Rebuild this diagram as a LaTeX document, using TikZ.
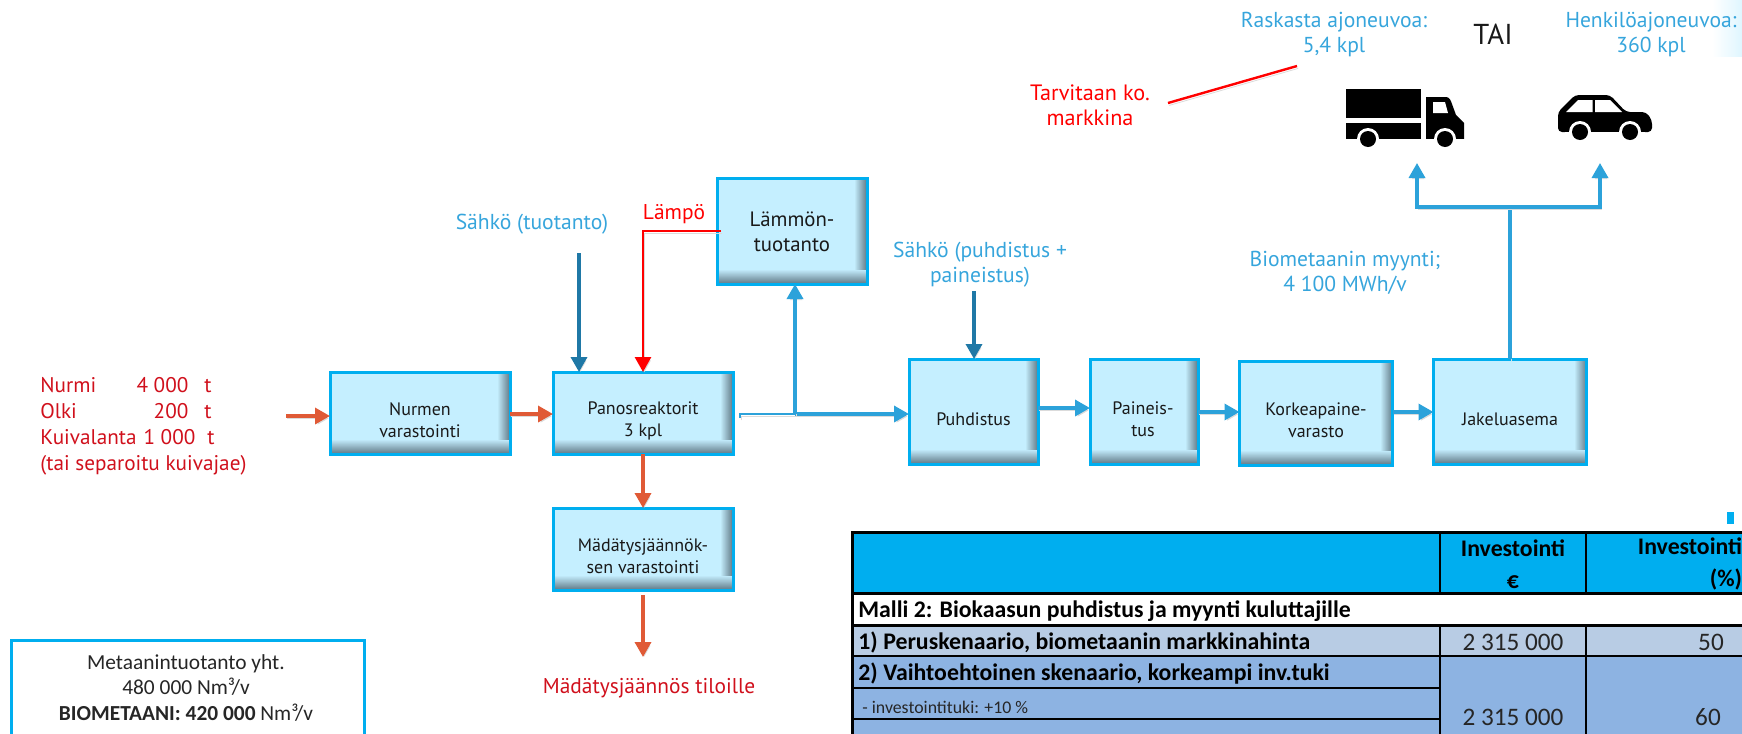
\documentclass[tikz,border=0pt]{standalone}
\usepackage{fontspec}
\setmainfont{PT Sans}
\newfontfamily\calibri{Carlito}
\usetikzlibrary{
	calc,
	arrows.meta}

\definecolor{boxfill}{HTML}{C5EFFF}
\definecolor{boxedge}{HTML}{5E7683}
\definecolor{boxline}{HTML}{00AEEF}
\definecolor{flowblue}{HTML}{2CA2DA}
\definecolor{darkblue}{HTML}{1F78A6}
\definecolor{feedorange}{HTML}{E05A36}
\definecolor{textred}{HTML}{D0101C}
\definecolor{labelblue}{HTML}{36A5DC}
\definecolor{rowone}{HTML}{B8CCE4}
\definecolor{rowtwo}{HTML}{8DB3E2}

\begin{document}
\begin{tikzpicture}[x=0.5pt,y=-0.5pt]
  \tikzstyle{prosess}=[draw=boxline,line width=1.5pt,fill=boxfill,inner sep=0pt,
    outer sep=0pt,
    path picture={
      \foreach \d in {6,5.5,...,0.5}{
        \pgfmathtruncatemacro{\p}{100*(1-\d/6.5)}
        \fill [boxedge!\p!boxfill]
          ($(path picture bounding box.north east)+(-\d pt,0)$) rectangle
          (path picture bounding box.south east);
      }
      \foreach \d in {7,6.5,...,0.5}{
        \pgfmathtruncatemacro{\p}{100*(1-\d/7.5)}
        \fill [boxedge!\p!boxfill]
          ($(path picture bounding box.south west)+(0,\d pt)$) rectangle
          (path picture bounding box.south east);
      }
    }]
  \tikzstyle{teksti}=[font=\fontsize{9}{11}\selectfont,text=black!90,inner sep=0pt,align=center]
  \tikzstyle{sininen}=[font=\fontsize{10.8}{12.5}\selectfont,text=labelblue,inner sep=0pt,align=center]
  \tikzstyle{punainen}=[font=\fontsize{10.7}{12.5}\selectfont,text=textred,inner sep=0pt,align=center]
  \tikzstyle{varjo}=[preaction={draw=black!14,transform canvas={shift={(0.6pt,-1.2pt)}}}]
  \tikzstyle{virta}=[varjo,line width=1.7pt,-{Triangle[length=7.5pt,width=8pt]}]
  \tikzstyle{taulu}=[font=\calibri\fontsize{12.6}{16}\selectfont,text=black!85,inner sep=0pt,align=center]
  \tikzstyle{taulub}=[font=\calibri\bfseries\fontsize{11.9}{16}\selectfont,inner sep=0pt,align=center]

  \clip (0,0) rectangle (1742,734);
  \useasboundingbox (0,0) rectangle (1742,734);

  % corner glow
  \shade[left color=white,right color=boxfill!55] (1712,0) rectangle (1742,56);

  % process boxes
  \node [prosess,minimum width=90pt,minimum height=41pt] (nurmen) at (420,413) {};
  \node [prosess,minimum width=90pt,minimum height=41pt] (panos) at (643,413) {};
  \node [prosess,minimum width=90pt,minimum height=41pt] (madatys) at (643,549) {};
  \node [prosess,minimum width=75pt,minimum height=53pt] (lammon) at (792,231) {};
  \node [prosess,minimum width=64.5pt,minimum height=52.5pt] (puhdistus) at (973.5,411.5) {};
  \node [prosess,minimum width=54pt,minimum height=52.5pt] (paineistus) at (1144,411.5) {};
  \node [prosess,minimum width=76.5pt,minimum height=52pt] (korkeapaine) at (1316,413) {};
  \node [prosess,minimum width=76.5pt,minimum height=52.5pt] (jakelu) at (1510,411.5) {};

  \node [teksti] (nurmentxt) at (420,420) {Nurmen\\varastointi};
  \node [teksti] (panostxt) at (643,421) {Panosreaktorit\\3 kpl};
  \node [teksti] (madatystxt) at (643,556) {Mädätysjäännök-\\sen varastointi};
  \node [teksti,font=\fontsize{10.4}{12.5}\selectfont] (lammontxt) at (792,232) {Lämmön-\\tuotanto};
  \node [teksti] (puhdistustxt) at (973.5,419) {Puhdistus};
  \node [teksti] (paineistustxt) at (1143,419) {Paineis-\\tus};
  \node [teksti] (korkeapainetxt) at (1316,420) {Korkeapaine-\\varasto};
  \node [teksti] (jakelutxt) at (1510,419) {Jakeluasema};

  % labels
  \node [anchor=west,punainen,align=left,font=\fontsize{10.6}{13}\selectfont] (syote) at (40,426) {
    \makebox[74pt][l]{Nurmi\hfill 4 000}\hspace{8pt}t\\
    \makebox[74pt][l]{Olki\hfill 200}\hspace{8pt}t\\
    \makebox[77.5pt][l]{Kuivalanta\hfill 1 000}\hspace{6pt}t\\
    (tai separoitu kuivajae)
  };
  \node [sininen] (sahkotuotanto) at (532,224) {Sähkö (tuotanto)};
  \node [punainen,text=red] (lampo) at (674,214) {Lämpö};
  \node [sininen] (sahkopuhdistus) at (980,265) {Sähkö (puhdistus +\\paineistus)};
  \node [sininen] (myynti) at (1345,273) {Biometaanin myynti;\\4 100 MWh/v};
  \node [sininen] (raskas) at (1334,35) {Raskasta ajoneuvoa:\\5,4 kpl};
  \node [sininen] (henkilo) at (1651,35) {Henkilöajoneuvoa:\\360 kpl};
  \node [teksti,font=\fontsize{14.4}{16}\selectfont] (tai) at (1493,34) {TAI};
  \node [punainen,text=red,font=\fontsize{11.1}{12.5}\selectfont] (markkina) at (1090,105) {Tarvitaan ko.\\markkina};
  \node [punainen] (tiloille) at (649,688) {Mädätysjäännös tiloille};

  % connectors
  \coordinate (syoteout) at (286,416);
  \coordinate (ylijaama) at (643,595);
  \coordinate (ylijaamaend) at (643,657);
  \coordinate (sahko1) at (579,253);
  \coordinate (sahko2) at (974,291);
  \coordinate (lampoout) at (721,231);
  \coordinate (panosout) at (740,418);
  \coordinate (haara) at (795,414);
  \coordinate (jako) at (1510,207);
  \coordinate (rekka) at (1417,163);
  \coordinate (auto) at (1600,163);
  \coordinate (viiva1) at (1168,103);
  \coordinate (viiva2) at (1297,66);

  \draw [virta,draw=feedorange] (syoteout) -- (syoteout -| nurmen.west);
  \draw [virta,draw=feedorange] (nurmen.east |- 0,414) -- (panos.west |- 0,414);
  \draw [virta,draw=feedorange] (panos.south) -- (madatys.north);
  \draw [virta,draw=feedorange] (ylijaama) -- (ylijaamaend);
  \draw [virta,draw=darkblue] (sahko1) -- (sahko1 |- panos.north);
  \draw [virta,draw=darkblue] (sahko2) -- (sahko2 |- puhdistus.north);
  \draw [virta,draw=red,line width=1.4pt] (lampoout) -| (panos.north);
  \draw [varjo,line width=1.2pt,draw=red] (viiva1) -- (viiva2);
  \draw [varjo,line width=1.1pt,draw=flowblue] (panosout) |- (haara);
  \draw [virta,draw=flowblue] (haara) -- (haara -| puhdistus.west);
  \draw [virta,draw=flowblue] (haara) -- (haara |- lammon.south);
  \draw [virta,draw=flowblue] (puhdistus.east |- 0,408) -- (paineistus.west |- 0,408);
  \draw [virta,draw=flowblue] (paineistus.east |- 0,412) -- (korkeapaine.west |- 0,412);
  \draw [virta,draw=flowblue] (korkeapaine.east |- 0,412) -- (jakelu.west |- 0,412);
  \draw [varjo,line width=1.7pt,draw=flowblue] (jakelu.north) -- (jako);
  \draw [virta,draw=flowblue] (jako) -| (rekka);
  \draw [virta,draw=flowblue] (jako) -| (auto);
  \fill [boxline] (1727,512) rectangle (1734,524);

  % truck
  \fill (1346,89) rectangle (1421,118);
  \fill (1346,123) rectangle (1421,139);
  \fill (1426,139) -- (1426,97) -- (1446,97) to[out=0,in=110] (1452,104) -- (1456,115)
    -- (1464,123) -- (1464,139) -- cycle;
  \fill [white] (1433,102) -- (1445,102) -- (1448,113) -- (1433,113) -- cycle;
  \fill [white] (1368,139) circle [radius=11] (1445,139) circle [radius=11];
  \fill [white] (1340,139) rectangle (1470,150);
  \fill (1368,139) circle [radius=8] (1445,139) circle [radius=8];

  % car
  \fill [rounded corners=2pt] (1558,132) -- (1558,112) -- (1575,95) -- (1610,95)
    -- (1626,112) -- (1646,112) -- (1652,120) -- (1652,132) -- cycle;
  \fill [white] (1566,112) -- (1578,100) -- (1592.5,100) -- (1592.5,112) -- cycle;
  \fill [white] (1595,100) -- (1610,100) -- (1622,112) -- (1595,112) -- cycle;
  \fill [white] (1580,132) circle [radius=11] (1630,132) circle [radius=11];
  \fill [white] (1565,132) rectangle (1645,145);
  \fill (1580,132) circle [radius=8] (1630,132) circle [radius=8];

  % summary box
  \node [draw=boxline,line width=1.5pt,fill=white,minimum width=176.5pt,minimum height=80pt,
    anchor=north west] (yhteenveto) at (10,639) {};
  \node [font=\calibri\fontsize{10.7}{12.6}\selectfont,text=black!85,inner sep=0pt,align=center]
    (yhteenvetotxt) at (186,688) {
    Metaanintuotanto yht.\\
    480 000 Nm³/v\\
    \textbf{BIOMETAANI: 420 000} Nm³/v
  };

  % table
  \fill [boxline] (852,532) rectangle (1742,593);
  \fill [white] (852,593) rectangle (1742,625);
  \fill [rowone] (852,625) rectangle (1742,656);
  \fill [rowtwo] (852,656) rectangle (1742,740);
  \draw [line width=1.5pt] (852,740) -- (852,532) -- (1742,532);
  \draw [line width=1.5pt] (852,593) -- (1742,593);
  \draw [line width=1.5pt] (852,625) -- (1742,625);
  \draw [line width=1pt] (852,656) -- (1742,656);
  \draw [line width=1.2pt] (852,688) -- (1440,688);
  \draw [line width=1.2pt] (852,719) -- (1440,719);
  \draw [line width=0.8pt] (1440,532) -- (1440,593) (1586,532) -- (1586,593);
  \draw [line width=0.8pt] (1440,625) -- (1440,740) (1586,625) -- (1586,740);

  \node [taulub] (invest) at (1513,564) {Investointi\\€};
  \node [taulub] (investpros) at (1690,564) {Investointi\\\hspace*{36pt}(\%)};
  \node [taulub,anchor=west] (malli) at (858,611) {Malli 2: Biokaasun puhdistus ja myynti kuluttajille};
  \node [taulub,anchor=west] (rivi1) at (858,642) {1) Peruskenaario, biometaanin markkinahinta};
  \node [taulub,anchor=west] (rivi2) at (858,674) {2) Vaihtoehtoinen skenaario, korkeampi inv.tuki};
  \node [taulu,anchor=west,font=\calibri\fontsize{8.9}{10}\selectfont] (rivi2a) at (862,707) {- investointituki: +10 \%};
  \node [taulu] (summa1) at (1513,642) {2 315 000};
  \node [taulu] (pros1) at (1711,642) {50};
  \node [taulu] (summa2) at (1513,717) {2 315 000};
  \node [taulu] (pros2) at (1708,717) {60};
\end{tikzpicture}
\end{document}
